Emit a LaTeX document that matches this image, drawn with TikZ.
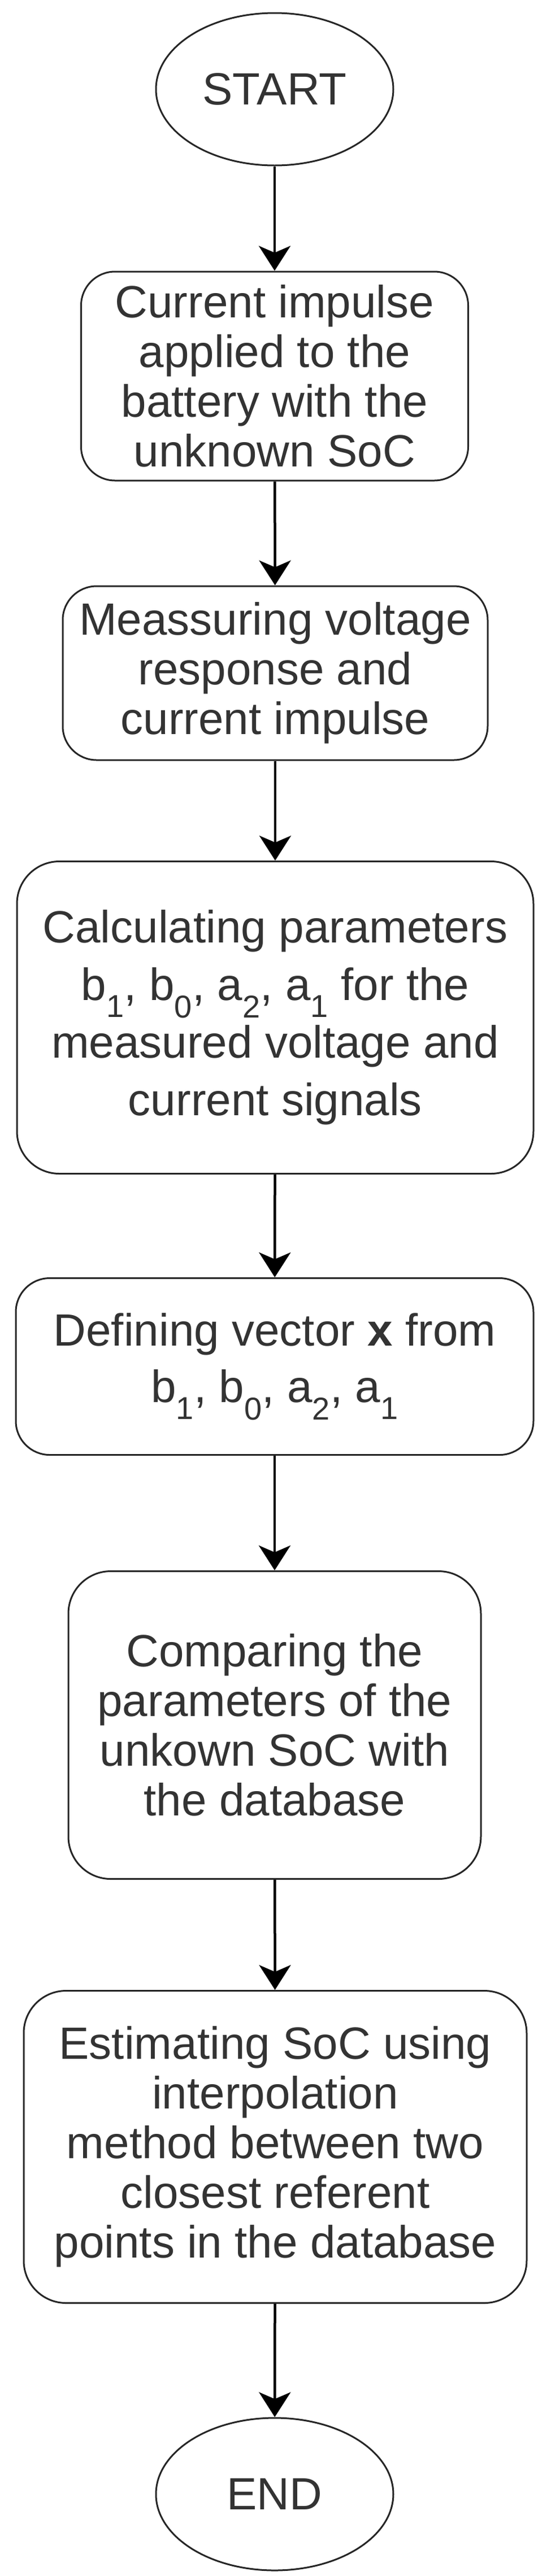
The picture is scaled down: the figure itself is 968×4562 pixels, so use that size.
\documentclass[tikz,border=0pt]{standalone}
\usepackage{fontspec}
\setmainfont{Liberation Sans}
\usetikzlibrary{shapes.geometric,arrows.meta}
\begin{document}
\begin{tikzpicture}[x=1pt,y=-1pt,
  box/.style={draw=black!85,line width=3pt,rounded corners=60pt,align=center,inner sep=0pt,text=black!80,font=\fontsize{80}{88}\selectfont},
  term/.style={draw=black!85,line width=3pt,ellipse,inner sep=0pt,minimum width=420pt,minimum height=270pt,text=black!80,font=\fontsize{80}{88}\selectfont},
  arr/.style={line width=4.5pt,-{Stealth[length=44pt,width=56pt,inset=12pt]}}]
\useasboundingbox (0,0) rectangle (968,4562);
\fill[white] (0,0) rectangle (968,4562);
\node[term] (s) at (486,158) {START};
\node[box,minimum width=685pt,minimum height=370pt] (b1) at (486,666) {Current impulse\\applied to the\\battery with the\\unknown SoC};
\node[box,minimum width=752pt,minimum height=308pt] (b2) at (487,1192) {Meassuring voltage\\response and\\current impulse};
\node[box,minimum width=914pt,minimum height=553pt,rounded corners=75pt,font=\fontsize{80}{102}\selectfont] (b3) at (487,1802) {Calculating parameters\\b\textsubscript{1}, b\textsubscript{0}, a\textsubscript{2}, a\textsubscript{1} for the\\measured voltage and\\current signals};
\node[box,minimum width=916pt,minimum height=313pt,font=\fontsize{80}{100}\selectfont] (b4) at (486,2420) {Defining vector \textbf{x} from\\b\textsubscript{1}, b\textsubscript{0}, a\textsubscript{2}, a\textsubscript{1}};
\node[box,minimum width=730pt,minimum height=545pt,rounded corners=75pt] (b5) at (486,3055) {Comparing the\\parameters of the\\unkown SoC with\\the database};
\node[box,minimum width=890pt,minimum height=553pt,rounded corners=75pt] (b6) at (487,3802) {Estimating SoC using\\interpolation\\method between two\\closest referent\\points in the database};
\node[term] (e) at (486,4417) {END};
\draw[arr] (s) -- (b1);
\draw[arr] (b1) -- (b2);
\draw[arr] (b2) -- (b3);
\draw[arr] (b3) -- (b4);
\draw[arr] (b4) -- (b5);
\draw[arr] (b5) -- (b6);
\draw[arr] (b6) -- (e);
\end{tikzpicture}
\end{document}
